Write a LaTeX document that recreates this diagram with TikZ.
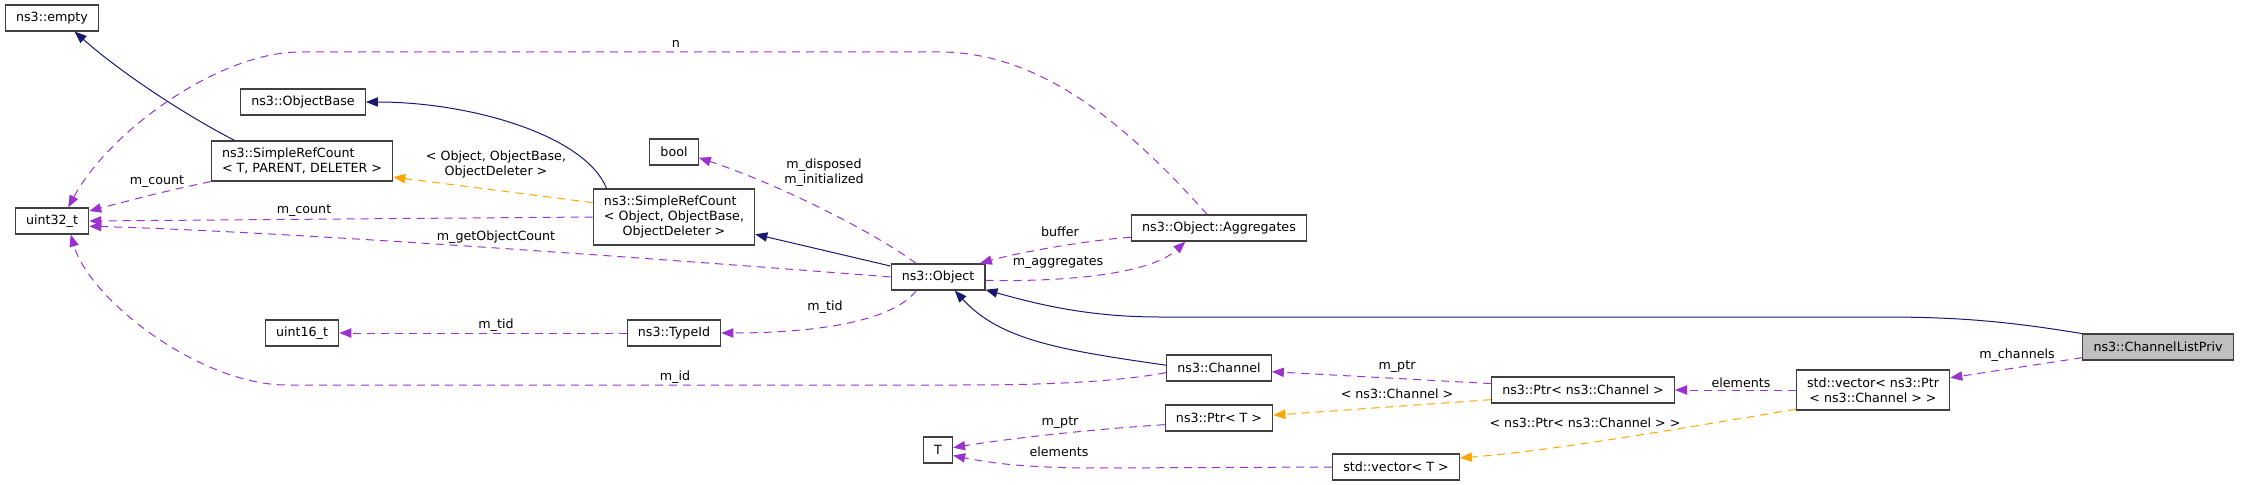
\documentclass[tikz,border=0pt]{standalone}
\usepackage{fontspec}
\setmainfont{DejaVu Sans}
\usetikzlibrary{arrows.meta}
\definecolor{boxgray}{HTML}{404040}
\definecolor{selgray}{HTML}{BFBFBF}
\definecolor{inhblue}{HTML}{191970}
\definecolor{mempurple}{HTML}{9A32CD}
\definecolor{tplorange}{HTML}{FFA500}

\begin{document}
\begin{tikzpicture}
  [x=0.75pt,y=-0.75pt,
   every node/.style={font=\fontsize{9.5}{11.25}\selectfont},
   cls/.style={draw=boxgray,fill=white,line width=0.9pt,inner xsep=8pt,inner ysep=2pt,
     minimum height=19.5pt,align=left},
   lbl/.style={inner sep=0pt,align=center},
   inh/.style={draw=inhblue,line width=0.75pt,-{Triangle[length=9pt,width=7pt]}},
   mem/.style={draw=mempurple,line width=0.75pt,dash pattern=on 6pt off 4.5pt,
     -{Triangle[length=9pt,width=7pt]}},
   tpl/.style={draw=tplorange,line width=0.75pt,dash pattern=on 6pt off 4.5pt,
     -{Triangle[length=9pt,width=7pt]}}]
  \useasboundingbox (0,0) rectangle (2241,485);
  % classes
  \node[cls] (empty) at (52,18) {ns3::empty};
  \node[cls] (objbase) at (303,102) {ns3::ObjectBase};
  \node[cls,minimum height=30pt] (srct) at (302,161) {ns3::SimpleRefCount\\< T, PARENT, DELETER >};
  \node[cls] (uint) at (52,221) {uint32\_t};
  \node[cls] (bool) at (674,152) {bool};
  \node[cls,minimum height=42pt] (srcobj) at (674,217)
    {ns3::SimpleRefCount\\< Object, ObjectBase,\\\null\hfill ObjectDeleter >\hfill\null};
  \node[cls] (object) at (938,277) {ns3::Object};
  \node[cls] (aggr) at (1219,228) {ns3::Object::Aggregates};
  \node[cls] (uint16) at (302,333) {uint16\_t};
  \node[cls] (typeid) at (674,333) {ns3::TypeId};
  \node[cls] (channel) at (1219,368) {ns3::Channel};
  \node[cls] (ptrt) at (1219,418) {ns3::Ptr< T >};
  \node[cls] (T) at (938,450) {T};
  \node[cls] (vect) at (1396,467) {std::vector< T >};
  \node[cls] (ptrch) at (1583,390) {ns3::Ptr< ns3::Channel >};
  \node[cls,minimum height=30pt] (vecptr) at (1873,390)
    {std::vector< ns3::Ptr\\\null\hfill< ns3::Channel > >\hfill\null};
  \node[cls,fill=selgray] (clp) at (2158,347) {ns3::ChannelListPriv};

  % inheritance
  \draw[inh] (srct.163) .. controls (185,115) and (120,72) .. (empty.-31);
  \draw[inh] (srcobj.157) .. controls (585,135) and (470,102) .. (objbase.east);
  \draw[inh] (object.167) -- (srcobj.-12);
  \draw[inh] (channel.177) .. controls (1060,350) and (1000,340) .. (object.-39);
  \draw[inh] (clp.170) .. controls (2000,320) and (1950,317) .. (1880,317) -- (1160,317)
    .. controls (1090,317) and (1040,305) .. (object.-15);

  % members
  \draw[mem] (aggr.131) .. controls (1140,140) and (1050,52) .. (940,52) -- (300,52)
    .. controls (220,52) and (110,130) .. (uint.40);
  \draw[mem] (srct.south west) .. controls (160,192) and (120,203) .. (uint.15);
  \draw[mem] (srcobj.west) -- (uint.east);
  \draw[mem] (object.west) .. controls (700,262) and (300,232) .. (uint.-8);
  \draw[mem] (object.148) .. controls (870,230) and (780,185) .. (bool.-13);
  \draw[mem] (aggr.186) .. controls (1090,240) and (1020,252) .. (object.18);
  \draw[mem] (object.-4) .. controls (1060,282) and (1150,275) .. (aggr.202);
  \draw[mem] (object.212) .. controls (890,325) and (800,333) .. (typeid.east);
  \draw[mem] (typeid.west) -- (uint16.east);
  \draw[mem] (channel.185) .. controls (1100,385) and (1000,385) .. (950,385) -- (287,385)
    .. controls (200,385) and (90,300) .. (uint.-36);
  \draw[mem] (ptrch.176) -- (channel.-4);
  \draw[mem] (vecptr.west) -- (ptrch.east);
  \draw[mem] (clp.188) -- (vecptr.9);
  \draw[mem] (ptrt.187) .. controls (1080,430) and (1000,440) .. (T.9);
  \draw[mem] (vect.west) -- (1100,468) .. controls (1040,468) and (1000,465) .. (T.-20);

  % template instances
  \draw[tpl] (srcobj.170) -- (srct.-10);
  \draw[tpl] (ptrch.186) -- (ptrt.3);
  \draw[tpl] (vecptr.194) .. controls (1700,425) and (1560,450) .. (vect.8);

  % edge labels
  \node[lbl] (ln) at (676,44) {n};
  \node[lbl] (lcount) at (157,182) {m\_count};
  \node[lbl] (lcount2) at (304,211) {m\_count};
  \node[lbl] (lgoc) at (496,237) {m\_getObjectCount};
  \node[lbl] (ltsrc) at (496,165) {< Object, ObjectBase,\\ObjectDeleter >};
  \node[lbl] (ldisp) at (824,173) {m\_disposed\\m\_initialized};
  \node[lbl] (lbuf) at (1060,232) {buffer};
  \node[lbl] (laggr) at (1058,263) {m\_aggregates};
  \node[lbl] (ltid) at (825,307) {m\_tid};
  \node[lbl] (ltid2) at (496,325) {m\_tid};
  \node[lbl] (lid) at (675,377) {m\_id};
  \node[lbl] (lptr) at (1397,367) {m\_ptr};
  \node[lbl] (ltch) at (1397,394) {< ns3::Channel >};
  \node[lbl] (lelem) at (1741,383) {elements};
  \node[lbl] (lchan) at (2017,355) {m\_channels};
  \node[lbl] (lptr2) at (1060,423) {m\_ptr};
  \node[lbl] (lelem2) at (1059,452) {elements};
  \node[lbl] (ltvec) at (1585,423) {< ns3::Ptr< ns3::Channel > >};
\end{tikzpicture}
\end{document}
